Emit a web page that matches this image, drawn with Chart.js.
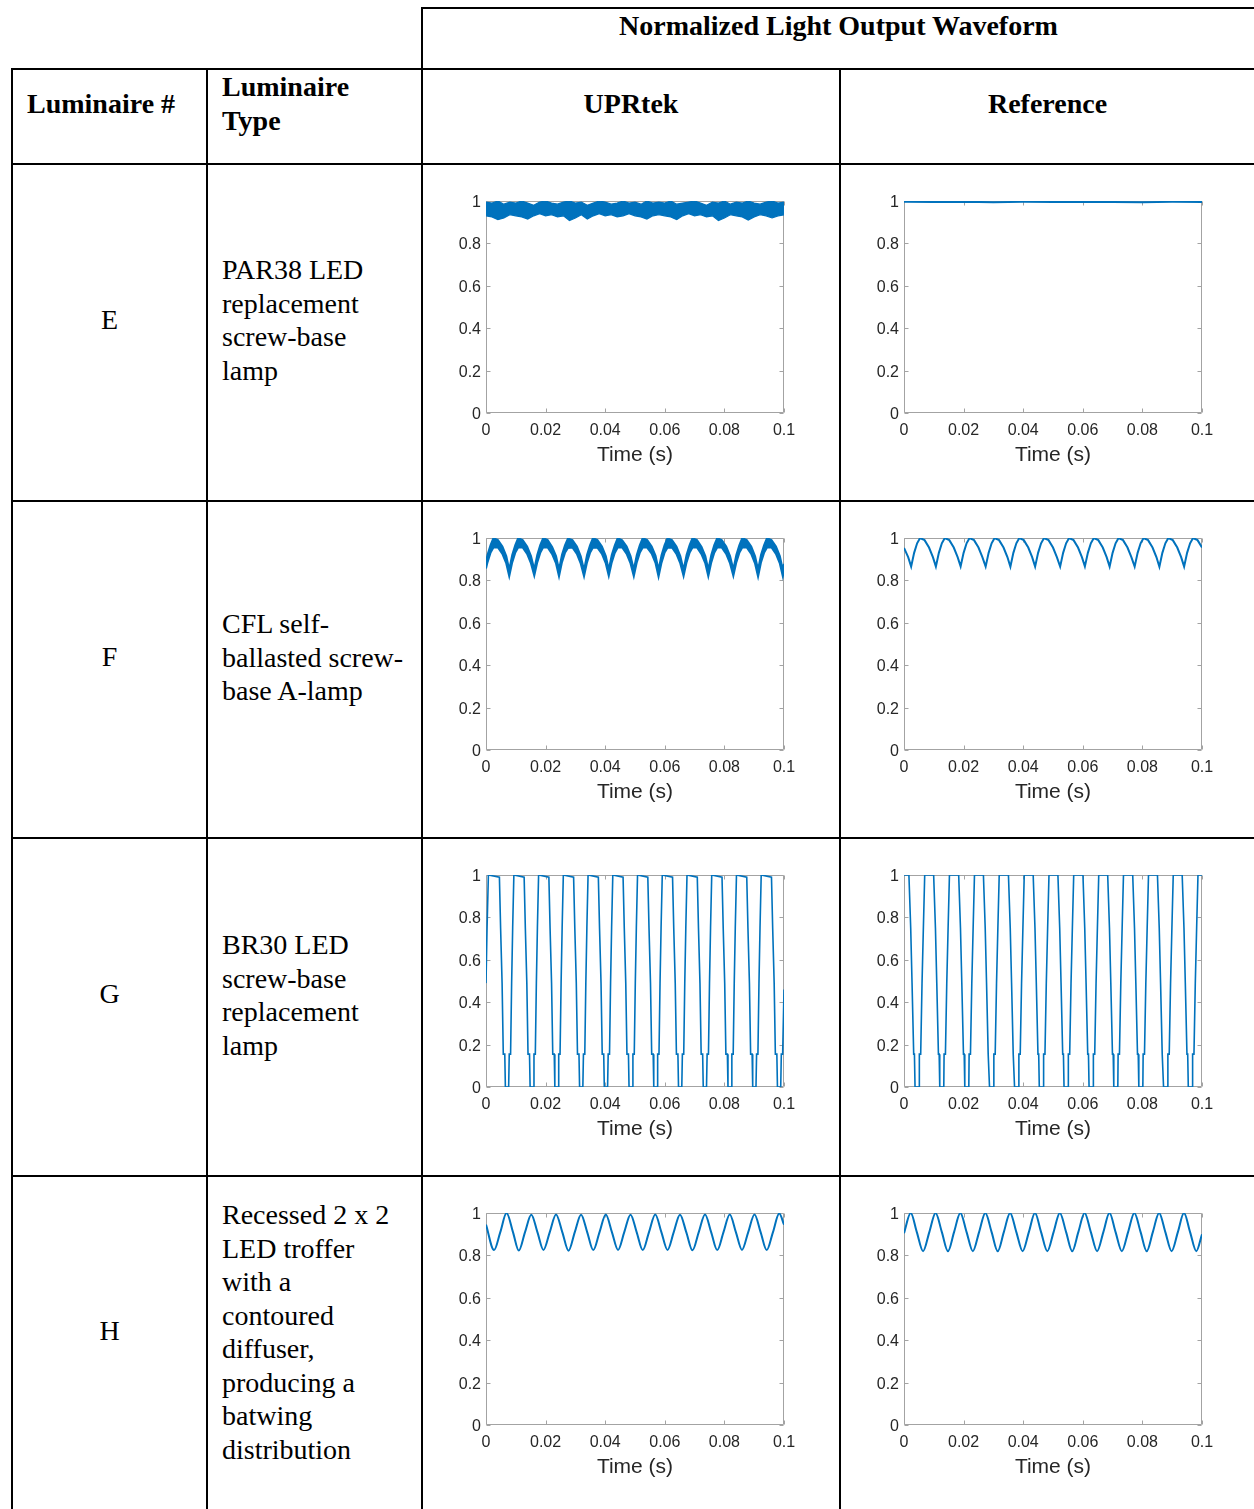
<!DOCTYPE html>
<html lang="en">
<head>
<meta charset="UTF-8">
<title>Normalized Light Output Waveform</title>
<script src="https://cdn.jsdelivr.net/npm/chart.js"></script>
<style>
    body { margin: 0; background: #fff; }
    .page { position: relative; width: 1254px; height: 1509px; overflow: hidden;
            font-family: "Liberation Serif", "Times New Roman", serif; color: #000; }
    .hl, .vl { position: absolute; background: #000; }
    .hl { height: 2px; }
    .vl { width: 2px; }
    .txt { position: absolute; font-size: 28px; line-height: 33.5px; white-space: nowrap; }
    .bold { font-weight: bold; }
    .center { text-align: center; }
    canvas { position: absolute; }
</style>
</head>
<body>
<div class="page">
    <!-- table rules -->
    <div class="hl" style="top:7px;left:421px;width:833px"></div>
    <div class="hl" style="top:68px;left:11px;width:1243px"></div>
    <div class="hl" style="top:163px;left:11px;width:1243px"></div>
    <div class="hl" style="top:500px;left:11px;width:1243px"></div>
    <div class="hl" style="top:837px;left:11px;width:1243px"></div>
    <div class="hl" style="top:1175px;left:11px;width:1243px"></div>
    <div class="vl" style="left:11px;top:68px;height:1441px"></div>
    <div class="vl" style="left:206px;top:68px;height:1441px"></div>
    <div class="vl" style="left:421px;top:7px;height:1502px"></div>
    <div class="vl" style="left:839px;top:68px;height:1441px"></div>

    <!-- headers -->
    <div class="txt bold center" style="left:423px;width:831px;top:9px">Normalized Light Output Waveform</div>
    <div class="txt bold" style="left:27px;top:87px">Luminaire #</div>
    <div class="txt bold" style="left:222px;top:70px;line-height:34px">Luminaire<br>Type</div>
    <div class="txt bold center" style="left:423px;width:416px;top:87px">UPRtek</div>
    <div class="txt bold center" style="left:841px;width:413px;top:87px">Reference</div>

    <!-- rows -->
    <div class="txt center" style="left:13px;width:193px;top:303px">E</div>
    <div class="txt" style="left:222px;top:253px">PAR38 LED<br>replacement<br>screw-base<br>lamp</div>
    <div class="txt center" style="left:13px;width:193px;top:640px">F</div>
    <div class="txt" style="left:222px;top:607px">CFL self-<br>ballasted screw-<br>base A-lamp</div>
    <div class="txt center" style="left:13px;width:193px;top:977px">G</div>
    <div class="txt" style="left:222px;top:928px">BR30 LED<br>screw-base<br>replacement<br>lamp</div>
    <div class="txt center" style="left:13px;width:193px;top:1314px">H</div>
    <div class="txt" style="left:222px;top:1198px">Recessed 2 x 2<br>LED troffer<br>with a<br>contoured<br>diffuser,<br>producing a<br>batwing<br>distribution</div>

    <!-- waveform plots -->
    <canvas id="eUpr" width="418" height="337" style="left:422px;top:164px"></canvas>
    <canvas id="eRef" width="418" height="337" style="left:840px;top:164px"></canvas>
    <canvas id="fUpr" width="418" height="337" style="left:422px;top:501px"></canvas>
    <canvas id="fRef" width="418" height="337" style="left:840px;top:501px"></canvas>
    <canvas id="gUpr" width="418" height="337" style="left:422px;top:838px"></canvas>
    <canvas id="gRef" width="418" height="337" style="left:840px;top:838px"></canvas>
    <canvas id="hUpr" width="418" height="337" style="left:422px;top:1176px"></canvas>
    <canvas id="hRef" width="418" height="337" style="left:840px;top:1176px"></canvas>
</div>

<script>
    // axis text (time is kept in ms below, labels shown in s)
    const xTickLabels = ['0', '0.02', '0.04', '0.06', '0.08', '0.1'];
    const yTickLabels = ['0', '0.2', '0.4', '0.6', '0.8', '1'];
    const xTitle = 'Time (s)';

    // E - PAR38 LED, UPRtek: noisy band, upper and lower edge
    const eUprTime = [0,2,4,6,8,10,12,14,16,18,20,22,24,26,28,30,32,34,36,38,40,42,44,46,48,50,
        52,54,56,58,60,62,64,66,68,70,72,74,76,78,80,82,84,86,88,90,92,94,96,98,100];
    const eUprHigh = [0.995,0.99,1.0,0.985,0.995,0.99,1.0,0.99,0.98,0.995,
        1.0,0.99,0.985,0.995,1.0,0.99,0.995,0.98,0.99,1.0,
        0.995,0.985,0.99,1.0,0.99,0.995,0.985,1.0,0.99,0.995,
        0.99,1.0,0.985,0.99,0.995,1.0,0.99,0.98,0.995,0.99,
        1.0,0.985,0.995,0.99,1.0,0.99,0.985,0.995,1.0,0.99,0.995];
    const eUprLow = [0.93,0.925,0.912,0.92,0.935,0.93,0.925,0.915,0.93,0.94,
        0.93,0.935,0.925,0.93,0.908,0.92,0.935,0.915,0.93,0.94,
        0.93,0.935,0.925,0.93,0.94,0.93,0.925,0.915,0.93,0.935,
        0.93,0.925,0.912,0.93,0.94,0.93,0.935,0.925,0.93,0.908,
        0.92,0.935,0.93,0.925,0.91,0.925,0.935,0.93,0.92,0.93,0.935];

    // E - Reference: almost flat
    const eRefPoints = [[0,0.996],[10,0.995],[20,0.997],[30,0.994],[40,0.996],[50,0.995],
        [60,0.997],[70,0.995],[80,0.994],[90,0.996],[100,0.995]];

    // F - CFL, UPRtek: thick band
    const fUprTime = [0,0.5,1.5,2.5,4.0,5.5,6.8,
        7.8,8.8,9.8,10.8,12.3,13.8,15.1,
        16.2,17.2,18.2,19.2,20.7,22.2,23.5,
        24.5,25.5,26.5,27.5,29.0,30.5,31.8,
        32.9,33.9,34.9,35.9,37.4,38.9,40.2,
        41.2,42.2,43.2,44.2,45.7,47.2,48.5,
        49.6,50.6,51.6,52.6,54.1,55.6,56.9,
        57.9,58.9,59.9,60.9,62.4,63.9,65.2,
        66.3,67.3,68.3,69.3,70.8,72.3,73.6,
        74.6,75.6,76.6,77.6,79.1,80.6,81.9,
        83.0,84.0,85.0,86.0,87.5,89.0,90.3,
        91.3,92.3,93.3,94.3,95.8,97.3,98.6,
        99.6,100];
    const fUprHigh = [0.888,0.92,0.965,1.0,0.99,0.96,0.915,
        0.85,0.92,0.965,1.0,0.99,0.96,0.915,
        0.852,0.92,0.966,1.0,0.99,0.958,0.915,
        0.85,0.921,0.965,0.998,0.99,0.96,0.914,
        0.848,0.92,0.965,1.0,0.99,0.96,0.915,
        0.85,0.92,0.964,1.0,0.989,0.96,0.915,
        0.851,0.92,0.965,1.0,0.99,0.96,0.916,
        0.85,0.919,0.965,0.999,0.99,0.96,0.915,
        0.849,0.92,0.965,1.0,0.99,0.959,0.915,
        0.85,0.92,0.966,1.0,0.99,0.96,0.915,
        0.852,0.92,0.965,1.0,0.99,0.96,0.914,
        0.85,0.921,0.965,1.0,0.99,0.96,0.915,
        0.85,0.878];
    const fUprLow = [0.856,0.885,0.93,0.955,0.955,0.925,0.88,
        0.82,0.885,0.93,0.955,0.955,0.925,0.88,
        0.823,0.885,0.93,0.956,0.955,0.924,0.88,
        0.819,0.886,0.93,0.953,0.955,0.925,0.879,
        0.82,0.885,0.93,0.955,0.954,0.925,0.88,
        0.822,0.885,0.929,0.955,0.955,0.925,0.88,
        0.82,0.885,0.93,0.955,0.955,0.926,0.881,
        0.818,0.884,0.93,0.954,0.955,0.925,0.88,
        0.821,0.885,0.93,0.955,0.955,0.924,0.88,
        0.82,0.885,0.931,0.955,0.955,0.925,0.88,
        0.822,0.885,0.93,0.955,0.955,0.925,0.879,
        0.818,0.886,0.93,0.955,0.955,0.925,0.88,
        0.82,0.846];

    // F - Reference: rectified ripple with sharp minima
    const fRefPoints = [[0,0.953],[1.4,0.91],
        [2.4,0.865],[3.4,0.93],[4.4,0.975],[5.4,1.0],[6.9,0.99],[8.4,0.955],[9.7,0.91],
        [10.7,0.865],[11.7,0.93],[12.7,0.975],[13.7,1.0],[15.2,0.99],[16.7,0.955],[18.0,0.91],
        [19.0,0.866],[20.0,0.93],[21.0,0.975],[22.0,1.0],[23.5,0.99],[25.0,0.955],[26.3,0.91],
        [27.4,0.865],[28.4,0.93],[29.4,0.975],[30.4,1.0],[31.9,0.99],[33.4,0.955],[34.7,0.91],
        [35.7,0.864],[36.7,0.93],[37.7,0.975],[38.7,1.0],[40.2,0.99],[41.7,0.955],[43.0,0.91],
        [44.0,0.865],[45.0,0.93],[46.0,0.975],[47.0,1.0],[48.5,0.99],[50.0,0.955],[51.3,0.91],
        [52.4,0.865],[53.4,0.93],[54.4,0.975],[55.4,1.0],[56.9,0.99],[58.4,0.955],[59.7,0.91],
        [60.7,0.866],[61.7,0.93],[62.7,0.975],[63.7,1.0],[65.2,0.99],[66.7,0.955],[68.0,0.91],
        [69.0,0.865],[70.0,0.93],[71.0,0.975],[72.0,1.0],[73.5,0.99],[75.0,0.955],[76.3,0.91],
        [77.4,0.865],[78.4,0.93],[79.4,0.975],[80.4,1.0],[81.9,0.99],[83.4,0.955],[84.7,0.91],
        [85.7,0.864],[86.7,0.93],[87.7,0.975],[88.7,1.0],[90.2,0.99],[91.7,0.955],[93.0,0.91],
        [94.0,0.865],[95.0,0.93],[96.0,0.975],[97.0,1.0],[98.5,0.99],[100,0.955]];

    // G - BR30 LED, UPRtek: deep pulses with stepped edges
    const gUprPoints = [[0,0.49],[0.35,0.75],[0.8,1.0],
        [4.5,0.99],[4.9,0.75],[5.4,0.49],[5.8,0.155],[6.3,0.155],[6.5,0],[7.6,0],[7.8,0.155],[8.25,0.155],[8.6,0.49],[8.95,0.75],[9.35,1.0],
        [12.8,0.99],[13.2,0.75],[13.7,0.49],[14.1,0.155],[14.6,0.155],[14.8,0],[15.9,0],[16.1,0.155],[16.55,0.155],[16.9,0.49],[17.25,0.75],[17.65,1.0],
        [21.1,0.99],[21.5,0.75],[22.0,0.49],[22.4,0.155],[22.9,0.155],[23.1,0],[24.2,0],[24.4,0.155],[24.85,0.155],[25.2,0.49],[25.55,0.75],[25.95,1.0],
        [29.4,0.99],[29.8,0.75],[30.3,0.49],[30.7,0.155],[31.2,0.155],[31.4,0],[32.5,0],[32.7,0.155],[33.15,0.155],[33.5,0.49],[33.85,0.75],[34.25,1.0],
        [37.7,0.99],[38.1,0.75],[38.6,0.49],[39.0,0.155],[39.5,0.155],[39.7,0],[40.8,0],[41.0,0.155],[41.45,0.155],[41.8,0.49],[42.15,0.75],[42.55,1.0],
        [46.0,0.99],[46.4,0.75],[46.9,0.49],[47.3,0.155],[47.8,0.155],[48.0,0],[49.1,0],[49.3,0.155],[49.75,0.155],[50.1,0.49],[50.45,0.75],[50.85,1.0],
        [54.3,0.99],[54.7,0.75],[55.2,0.49],[55.6,0.155],[56.1,0.155],[56.3,0],[57.4,0],[57.6,0.155],[58.05,0.155],[58.4,0.49],[58.75,0.75],[59.15,1.0],
        [62.6,0.99],[63.0,0.75],[63.5,0.49],[63.9,0.155],[64.4,0.155],[64.6,0],[65.7,0],[65.9,0.155],[66.35,0.155],[66.7,0.49],[67.05,0.75],[67.45,1.0],
        [70.9,0.99],[71.3,0.75],[71.8,0.49],[72.2,0.155],[72.7,0.155],[72.9,0],[74.0,0],[74.2,0.155],[74.65,0.155],[75.0,0.49],[75.35,0.75],[75.75,1.0],
        [79.2,0.99],[79.6,0.75],[80.1,0.49],[80.5,0.155],[81.0,0.155],[81.2,0],[82.3,0],[82.5,0.155],[82.95,0.155],[83.3,0.49],[83.65,0.75],[84.05,1.0],
        [87.5,0.99],[87.9,0.75],[88.4,0.49],[88.8,0.155],[89.3,0.155],[89.5,0],[90.6,0],[90.8,0.155],[91.25,0.155],[91.6,0.49],[91.95,0.75],[92.35,1.0],
        [95.8,0.99],[96.2,0.75],[96.7,0.49],[97.1,0.155],[97.6,0.155],[97.8,0],[98.9,0],[99.1,0.155],[99.55,0.155],[100,0.46]];

    // G - Reference
    const gRefPoints = [[0,1.0],
        [1.65,1.0],[2.25,0.75],[2.7,0.49],[3.25,0.155],[3.5,0.155],[3.7,0],[5.05,0],[5.15,0.155],[5.6,0.155],[6.05,0.49],[6.5,0.75],[6.95,1.0],
        [9.95,1.0],[10.55,0.75],[11.0,0.49],[11.55,0.155],[11.8,0.155],[12.0,0],[13.35,0],[13.45,0.155],[13.9,0.155],[14.35,0.49],[14.8,0.75],[15.25,1.0],
        [18.35,1.0],[18.95,0.75],[19.4,0.49],[19.95,0.155],[20.2,0.155],[20.4,0],[21.75,0],[21.85,0.155],[22.3,0.155],[22.75,0.49],[23.2,0.75],[23.65,1.0],
        [26.65,1.0],[27.25,0.75],[27.7,0.49],[28.25,0.155],[28.5,0.155],[28.7,0],[30.05,0],[30.15,0.155],[30.6,0.155],[31.05,0.49],[31.5,0.75],[31.95,1.0],
        [35.05,1.0],[35.65,0.75],[36.1,0.49],[36.65,0.155],[36.9,0.155],[37.1,0],[38.45,0],[38.55,0.155],[39.0,0.155],[39.45,0.49],[39.9,0.75],[40.35,1.0],
        [43.35,1.0],[43.95,0.75],[44.4,0.49],[44.95,0.155],[45.2,0.155],[45.4,0],[46.75,0],[46.85,0.155],[47.3,0.155],[47.75,0.49],[48.2,0.75],[48.65,1.0],
        [51.65,1.0],[52.25,0.75],[52.7,0.49],[53.25,0.155],[53.5,0.155],[53.7,0],[55.05,0],[55.15,0.155],[55.6,0.155],[56.05,0.49],[56.5,0.75],[56.95,1.0],
        [60.05,1.0],[60.65,0.75],[61.1,0.49],[61.65,0.155],[61.9,0.155],[62.1,0],[63.45,0],[63.55,0.155],[64.0,0.155],[64.45,0.49],[64.9,0.75],[65.35,1.0],
        [68.35,1.0],[68.95,0.75],[69.4,0.49],[69.95,0.155],[70.2,0.155],[70.4,0],[71.75,0],[71.85,0.155],[72.3,0.155],[72.75,0.49],[73.2,0.75],[73.65,1.0],
        [76.75,1.0],[77.35,0.75],[77.8,0.49],[78.35,0.155],[78.6,0.155],[78.8,0],[80.15,0],[80.25,0.155],[80.7,0.155],[81.15,0.49],[81.6,0.75],[82.05,1.0],
        [85.05,1.0],[85.65,0.75],[86.1,0.49],[86.65,0.155],[86.9,0.155],[87.1,0],[88.45,0],[88.55,0.155],[89.0,0.155],[89.45,0.49],[89.9,0.75],[90.35,1.0],
        [93.35,1.0],[93.95,0.75],[94.4,0.49],[94.95,0.155],[95.2,0.155],[95.4,0],[96.75,0],[96.85,0.155],[97.3,0.155],[97.75,0.49],[98.2,0.75],[98.65,1.0],
        [100,1.0]];

    // H - LED troffer, UPRtek: smooth ripple
    const hUprPoints = [[0,0.945],
        [2.7,0.825],[4.8,0.91],[6.9,1.0],[9.05,0.91],
        [11.0,0.823],[13.1,0.91],[15.2,0.992],[17.25,0.91],
        [19.3,0.826],[21.4,0.91],[23.5,0.993],[25.6,0.91],
        [27.7,0.822],[29.8,0.91],[31.9,0.992],[33.95,0.91],
        [36.0,0.825],[38.1,0.91],[40.2,0.993],[42.25,0.91],
        [44.3,0.826],[46.4,0.91],[48.5,0.992],[50.55,0.91],
        [52.6,0.825],[54.7,0.91],[56.8,0.993],[58.85,0.91],
        [60.9,0.826],[63.0,0.91],[65.1,0.992],[67.2,0.91],
        [69.3,0.824],[71.4,0.91],[73.5,0.993],[75.55,0.91],
        [77.6,0.825],[79.7,0.91],[81.8,0.993],[83.85,0.91],
        [85.9,0.826],[88.0,0.91],[90.1,0.993],[92.15,0.91],
        [94.2,0.825],[96.3,0.91],[98.4,0.998],[100,0.945]];

    // H - Reference
    const hRefPoints = [[0,0.905],
        [2.25,1.0],[4.3,0.91],[6.4,0.82],[8.5,0.91],
        [10.6,1.0],[12.7,0.91],[14.75,0.82],[16.8,0.91],
        [18.9,1.0],[21.0,0.91],[23.1,0.82],[25.2,0.91],
        [27.3,1.0],[29.4,0.91],[31.45,0.82],[33.5,0.91],
        [35.6,1.0],[37.7,0.91],[39.8,0.82],[41.9,0.91],
        [43.95,1.0],[46.0,0.91],[48.1,0.82],[50.2,0.91],
        [52.3,1.0],[54.4,0.91],[56.45,0.82],[58.5,0.91],
        [60.6,1.0],[62.7,0.91],[64.8,0.82],[66.9,0.91],
        [68.95,1.0],[71.0,0.91],[73.1,0.82],[75.2,0.91],
        [77.3,1.0],[79.4,0.91],[81.45,0.82],[83.5,0.91],
        [85.6,1.0],[87.7,0.91],[89.8,0.82],[91.9,0.91],
        [93.95,1.0],[96.0,0.91],[98.1,0.82],[100,0.9]];

    const blue = '#0072bd';
    const axisGray = '#a3a3a3';
    const labelColor = '#262626';

    Chart.defaults.font.family = '"Liberation Sans", Arial, sans-serif';
    Chart.defaults.color = labelColor;

    // matlab-like box with inward tick marks on all four sides
    const boxTicks = {
        id: 'boxTicks',
        beforeDatasetsDraw(chart) {
            const { ctx, chartArea: a, scales } = chart;
            const l = Math.round(a.left) + 0.5, r = Math.round(a.right) - 0.5;
            const t = Math.round(a.top) + 0.5, b = Math.round(a.bottom) - 0.5;
            ctx.save();
            ctx.strokeStyle = axisGray;
            ctx.lineWidth = 1;
            ctx.beginPath();
            ctx.rect(l, t, r - l, b - t);
            scales.x.ticks.forEach(tk => {
                const px = Math.round(scales.x.getPixelForValue(tk.value)) + 0.5;
                ctx.moveTo(px, b); ctx.lineTo(px, b - 4);
                ctx.moveTo(px, t); ctx.lineTo(px, t + 4);
            });
            scales.y.ticks.forEach(tk => {
                const py = Math.round(scales.y.getPixelForValue(tk.value)) + 0.5;
                ctx.moveTo(l, py); ctx.lineTo(l + 4, py);
                ctx.moveTo(r, py); ctx.lineTo(r - 4, py);
            });
            ctx.stroke();
            ctx.restore();
        }
    };

    function fromPairs(points) {
        return points.map(p => ({ x: p[0], y: p[1] }));
    }

    function fromColumns(time, values) {
        return time.map((t, i) => ({ x: t, y: values[i] }));
    }

    function wave(data, extra) {
        return Object.assign({
            data: data, borderColor: blue, borderWidth: 2, pointRadius: 0,
            tension: 0, fill: false
        }, extra || {});
    }

    function drawWave(id, datasets) {
        new Chart(document.getElementById(id), {
            type: 'line',
            data: { datasets: datasets },
            options: {
                responsive: false,
                animation: false,
                events: [],
                layout: { padding: { top: 37, right: 56, left: 0, bottom: 0 } },
                plugins: { legend: { display: false }, tooltip: { enabled: false } },
                scales: {
                    x: {
                        type: 'linear', min: 0, max: 100,
                        grid: { display: false, drawTicks: false }, border: { display: false },
                        ticks: { stepSize: 20, padding: 8, maxRotation: 0, autoSkip: false,
                                 font: { size: 16 }, callback: (v, i) => xTickLabels[i] },
                        title: { display: true, text: xTitle, color: labelColor,
                                 font: { size: 21 }, padding: { top: 0, bottom: 33 } },
                        afterFit: s => { s.height = 88; }
                    },
                    y: {
                        type: 'linear', min: 0, max: 1,
                        grid: { display: false, drawTicks: false }, border: { display: false },
                        ticks: { stepSize: 0.2, padding: 5, labelOffset: 1.5, font: { size: 16 },
                                 callback: (v, i) => yTickLabels[i] },
                        afterFit: s => { s.width = 64; }
                    }
                }
            },
            plugins: [boxTicks]
        });
    }

    drawWave('eUpr', [
        wave(fromColumns(eUprTime, eUprHigh), { borderWidth: 1.2 }),
        wave(fromColumns(eUprTime, eUprLow), { borderWidth: 1.2, fill: '-1', backgroundColor: blue })
    ]);
    drawWave('eRef', [wave(fromPairs(eRefPoints))]);

    drawWave('fUpr', [
        wave(fromColumns(fUprTime, fUprHigh)),
        wave(fromColumns(fUprTime, fUprLow), { fill: '-1', backgroundColor: blue })
    ]);
    drawWave('fRef', [wave(fromPairs(fRefPoints))]);

    drawWave('gUpr', [wave(fromPairs(gUprPoints), { borderWidth: 1.6 })]);
    drawWave('gRef', [wave(fromPairs(gRefPoints), { borderWidth: 1.6 })]);

    drawWave('hUpr', [wave(fromPairs(hUprPoints), { cubicInterpolationMode: 'monotone' })]);
    drawWave('hRef', [wave(fromPairs(hRefPoints), { cubicInterpolationMode: 'monotone' })]);
</script>
</body>
</html>
